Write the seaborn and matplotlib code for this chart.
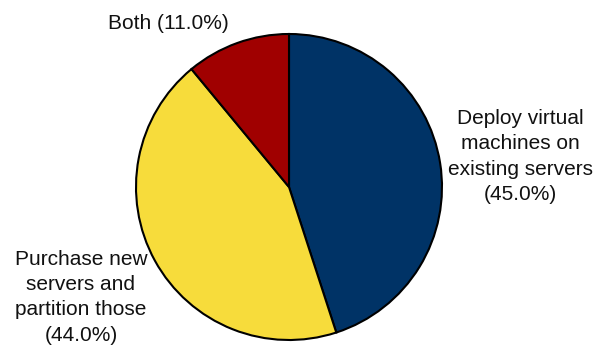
import numpy as np
import matplotlib
matplotlib.use("Agg")
import matplotlib.pyplot as plt
import seaborn as sns

sns.set_theme(style="white")
plt.rcParams['font.family'] = ['Liberation Sans', 'DejaVu Sans']

# data
labels = ["Deploy virtual\nmachines on\nexisting servers", "Purchase new\nservers and\npartition those", "Both"]
shares = [45.0, 44.0, 11.0]
colors = ["#003366", "#F7DC3B", "#A00000"]

# label centres, in units of the pie radius (layout only)
label_pos = [(1.51, 0.20), (-1.36, -0.72), (-0.79, 1.07)]

W, H = 596, 349
cx, cy, r = 289, 162, 153  # pie centre from bottom-left, radius (pixels)

fig = plt.figure(figsize=(W / 100, H / 100), dpi=100)
ax = fig.add_axes([0, 0, 1, 1])

wedges, _ = ax.pie(shares, colors=colors, startangle=90, counterclock=False,
                   wedgeprops=dict(edgecolor="black", linewidth=1.5))

for lab, val, (x, y) in zip(labels, shares, label_pos):
    sep = " " if lab == "Both" else "\n"
    ax.text(x, y, f"{lab}{sep}({val:.1f}%)", ha="center", va="center",
            fontsize=15, color="#111111", linespacing=1.42)

ax.set_aspect("auto")
ax.set_xlim(-cx / r, (W - cx) / r)
ax.set_ylim(-cy / r, (H - cy) / r)
ax.axis("off")

fig.savefig("out.png", dpi=100)
